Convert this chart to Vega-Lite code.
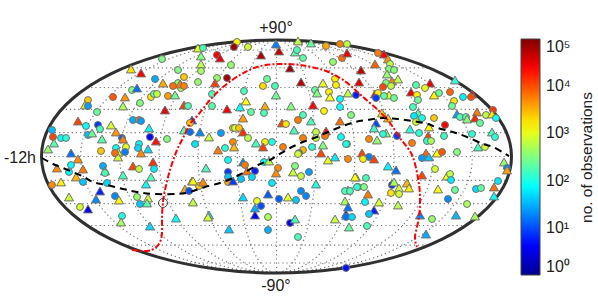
{"$schema":"https://vega.github.io/schema/vega-lite/v6.json","width":598,"height":298,"padding":0,"autosize":"none","background":"white","config":{"view":{"stroke":null},"font":"Liberation Sans"},
"datasets":{
"outline":[{"i":0,"x":511.5,"y":156.5},{"i":1,"x":503.5,"y":186.7},{"i":2,"x":480,"y":214.75},{"i":3,"x":442.7,"y":238.9},{"i":4,"x":394,"y":257.4},{"i":5,"x":337.3,"y":269},{"i":6,"x":276.5,"y":273},{"i":7,"x":215.7,"y":269},{"i":8,"x":159,"y":257.4},{"i":9,"x":110.3,"y":238.9},{"i":10,"x":73,"y":214.75},{"i":11,"x":49.5,"y":186.7},{"i":12,"x":41.5,"y":156.5},{"i":13,"x":49.5,"y":126.3},{"i":14,"x":73,"y":98.25},{"i":15,"x":110.3,"y":74.1},{"i":16,"x":159,"y":55.6},{"i":17,"x":215.7,"y":44},{"i":18,"x":276.5,"y":40},{"i":19,"x":337.3,"y":44},{"i":20,"x":394,"y":55.6},{"i":21,"x":442.7,"y":74.1},{"i":22,"x":480,"y":98.25},{"i":23,"x":503.5,"y":126.3}],
"parallels":[{"g":"0","x":41.5,"y":156.5},{"g":"0","x":511.5,"y":156.5},{"g":"a","x":46.5,"y":132.7},{"g":"a","x":506.5,"y":132.7},{"g":"b","x":46.5,"y":180.3},{"g":"b","x":506.5,"y":180.3},{"g":"c","x":61.5,"y":109.4},{"g":"c","x":491.5,"y":109.4},{"g":"d","x":61.5,"y":203.6},{"g":"d","x":491.5,"y":203.6},{"g":"e","x":87,"y":87.5},{"g":"e","x":466,"y":87.5},{"g":"f","x":87,"y":225.5},{"g":"f","x":466,"y":225.5},{"g":"h","x":124,"y":67.8},{"g":"h","x":429,"y":67.8},{"g":"i","x":124,"y":245.2},{"g":"i","x":429,"y":245.2},{"g":"j","x":181.5,"y":50},{"g":"j","x":371.5,"y":50},{"g":"k","x":181.5,"y":263},{"g":"k","x":371.5,"y":263}],
"meridians":[{"g":"C","x":276.5,"y":40},{"g":"C","x":276.5,"y":273},
{"g":"L1","x":276.5,"y":40},{"g":"L1","x":267,"y":43.5},{"g":"L1","x":259.4,"y":51.65},{"g":"L1","x":253,"y":63.3},{"g":"L1","x":245.2,"y":86.6},{"g":"L1","x":239.1,"y":121.55},{"g":"L1","x":237.3,"y":156.5},{"g":"L1","x":239.1,"y":191.45},{"g":"L1","x":245.2,"y":226.4},{"g":"L1","x":253,"y":249.7},{"g":"L1","x":259.4,"y":261.35},{"g":"L1","x":267,"y":269.5},{"g":"L1","x":276.5,"y":273},
{"g":"R1","x":276.5,"y":40},{"g":"R1","x":286,"y":43.5},{"g":"R1","x":293.6,"y":51.65},{"g":"R1","x":300,"y":63.3},{"g":"R1","x":307.8,"y":86.6},{"g":"R1","x":313.9,"y":121.55},{"g":"R1","x":315.7,"y":156.5},{"g":"R1","x":313.9,"y":191.45},{"g":"R1","x":307.8,"y":226.4},{"g":"R1","x":300,"y":249.7},{"g":"R1","x":293.6,"y":261.35},{"g":"R1","x":286,"y":269.5},{"g":"R1","x":276.5,"y":273},
{"g":"L2","x":276.5,"y":40},{"g":"L2","x":257.5,"y":43.5},{"g":"L2","x":242.3,"y":51.65},{"g":"L2","x":229.5,"y":63.3},{"g":"L2","x":213.8,"y":86.6},{"g":"L2","x":201.8,"y":121.55},{"g":"L2","x":198.2,"y":156.5},{"g":"L2","x":201.8,"y":191.45},{"g":"L2","x":213.8,"y":226.4},{"g":"L2","x":229.5,"y":249.7},{"g":"L2","x":242.3,"y":261.35},{"g":"L2","x":257.5,"y":269.5},{"g":"L2","x":276.5,"y":273},
{"g":"R2","x":276.5,"y":40},{"g":"R2","x":295.5,"y":43.5},{"g":"R2","x":310.7,"y":51.65},{"g":"R2","x":323.5,"y":63.3},{"g":"R2","x":339.2,"y":86.6},{"g":"R2","x":351.2,"y":121.55},{"g":"R2","x":354.8,"y":156.5},{"g":"R2","x":351.2,"y":191.45},{"g":"R2","x":339.2,"y":226.4},{"g":"R2","x":323.5,"y":249.7},{"g":"R2","x":310.7,"y":261.35},{"g":"R2","x":295.5,"y":269.5},{"g":"R2","x":276.5,"y":273},
{"g":"L3","x":276.5,"y":40},{"g":"L3","x":247.9,"y":43.5},{"g":"L3","x":225.3,"y":51.65},{"g":"L3","x":206,"y":63.3},{"g":"L3","x":182.5,"y":86.6},{"g":"L3","x":164.4,"y":121.55},{"g":"L3","x":159,"y":156.5},{"g":"L3","x":164.4,"y":191.45},{"g":"L3","x":182.5,"y":226.4},{"g":"L3","x":206,"y":249.7},{"g":"L3","x":225.3,"y":261.35},{"g":"L3","x":247.9,"y":269.5},{"g":"L3","x":276.5,"y":273},
{"g":"R3","x":276.5,"y":40},{"g":"R3","x":305.1,"y":43.5},{"g":"R3","x":327.7,"y":51.65},{"g":"R3","x":347,"y":63.3},{"g":"R3","x":370.5,"y":86.6},{"g":"R3","x":388.6,"y":121.55},{"g":"R3","x":394,"y":156.5},{"g":"R3","x":388.6,"y":191.45},{"g":"R3","x":370.5,"y":226.4},{"g":"R3","x":347,"y":249.7},{"g":"R3","x":327.7,"y":261.35},{"g":"R3","x":305.1,"y":269.5},{"g":"R3","x":276.5,"y":273},
{"g":"L4","x":276.5,"y":40},{"g":"L4","x":238.4,"y":43.5},{"g":"L4","x":208.2,"y":51.65},{"g":"L4","x":182.5,"y":63.3},{"g":"L4","x":151.2,"y":86.6},{"g":"L4","x":127,"y":121.55},{"g":"L4","x":119.8,"y":156.5},{"g":"L4","x":127,"y":191.45},{"g":"L4","x":151.2,"y":226.4},{"g":"L4","x":182.5,"y":249.7},{"g":"L4","x":208.2,"y":261.35},{"g":"L4","x":238.4,"y":269.5},{"g":"L4","x":276.5,"y":273},
{"g":"R4","x":276.5,"y":40},{"g":"R4","x":314.6,"y":43.5},{"g":"R4","x":344.8,"y":51.65},{"g":"R4","x":370.5,"y":63.3},{"g":"R4","x":401.8,"y":86.6},{"g":"R4","x":426,"y":121.55},{"g":"R4","x":433.2,"y":156.5},{"g":"R4","x":426,"y":191.45},{"g":"R4","x":401.8,"y":226.4},{"g":"R4","x":370.5,"y":249.7},{"g":"R4","x":344.8,"y":261.35},{"g":"R4","x":314.6,"y":269.5},{"g":"R4","x":276.5,"y":273},
{"g":"L5","x":276.5,"y":40},{"g":"L5","x":228.9,"y":43.5},{"g":"L5","x":191.1,"y":51.65},{"g":"L5","x":159,"y":63.3},{"g":"L5","x":119.8,"y":86.6},{"g":"L5","x":89.7,"y":121.55},{"g":"L5","x":80.7,"y":156.5},{"g":"L5","x":89.7,"y":191.45},{"g":"L5","x":119.8,"y":226.4},{"g":"L5","x":159,"y":249.7},{"g":"L5","x":191.1,"y":261.35},{"g":"L5","x":228.9,"y":269.5},{"g":"L5","x":276.5,"y":273},
{"g":"R5","x":276.5,"y":40},{"g":"R5","x":324.1,"y":43.5},{"g":"R5","x":361.9,"y":51.65},{"g":"R5","x":394,"y":63.3},{"g":"R5","x":433.2,"y":86.6},{"g":"R5","x":463.3,"y":121.55},{"g":"R5","x":472.3,"y":156.5},{"g":"R5","x":463.3,"y":191.45},{"g":"R5","x":433.2,"y":226.4},{"g":"R5","x":394,"y":249.7},{"g":"R5","x":361.9,"y":261.35},{"g":"R5","x":324.1,"y":269.5},{"g":"R5","x":276.5,"y":273}],
"ecliptic":[{"x":42,"y":158},{"x":53,"y":164},{"x":63,"y":168},{"x":82,"y":176},{"x":93,"y":182},{"x":107,"y":185},{"x":123,"y":189},{"x":137,"y":192},{"x":153,"y":194},{"x":177,"y":194},{"x":190,"y":192},{"x":205,"y":187},{"x":220,"y":183},{"x":233,"y":178},{"x":245,"y":172},{"x":258,"y":165},{"x":270,"y":160},{"x":278,"y":155},{"x":290,"y":148},{"x":303,"y":142},{"x":317,"y":137},{"x":328,"y":132},{"x":343,"y":126},{"x":355,"y":122},{"x":367,"y":120},{"x":383,"y":118},{"x":398,"y":119},{"x":413,"y":121},{"x":428,"y":124},{"x":438,"y":128},{"x":453,"y":132},{"x":467,"y":137},{"x":483,"y":144},{"x":493,"y":147},{"x":504,"y":153},{"x":509,"y":156}],
"galactic":[{"i":0,"x":132,"y":250},{"i":1,"x":147,"y":251},{"i":2,"x":155,"y":248},{"i":3,"x":160,"y":242},{"i":4,"x":162,"y":233},{"i":5,"x":162,"y":217},{"i":6,"x":163,"y":202},{"i":7,"x":165,"y":190},{"i":8,"x":170,"y":170},{"i":9,"x":177,"y":150},{"i":10,"x":183,"y":138},{"i":11,"x":190,"y":124},{"i":12,"x":198,"y":115},{"i":13,"x":210,"y":100},{"i":14,"x":223,"y":87},{"i":15,"x":240,"y":75},{"i":16,"x":257,"y":67},{"i":17,"x":277,"y":64},{"i":18,"x":300,"y":65},{"i":19,"x":323,"y":70},{"i":20,"x":340,"y":78},{"i":21,"x":352,"y":87},{"i":22,"x":363,"y":97},{"i":23,"x":378,"y":110},{"i":24,"x":390,"y":123},{"i":25,"x":400,"y":138},{"i":26,"x":412,"y":155},{"i":27,"x":418,"y":178},{"i":28,"x":420,"y":197},{"i":29,"x":419,"y":217},{"i":30,"x":415,"y":237},{"i":31,"x":417,"y":247}],
"centre":[{"x":163,"y":203}],
"labels":[{"x":276,"y":28,"t":"+90°"},{"x":276,"y":286,"t":"-90°"},{"x":20,"y":158,"t":"-12h"}],
"cbtitle":[{"x":587,"y":157.5,"t":"no. of observations"}],
"sources":[
{"x":162,"y":59,"k":"c","n":320},{"x":131,"y":69,"k":"t","n":1800},{"x":141,"y":73,"k":"t","n":25000},{"x":178,"y":70,"k":"c","n":320},{"x":155,"y":79,"k":"c","n":30},{"x":184,"y":77,"k":"c","n":2500},{"x":163,"y":83,"k":"t","n":3500},{"x":178,"y":83,"k":"c","n":320},{"x":181,"y":88,"k":"c","n":630},{"x":180,"y":84,"k":"t","n":5600},{"x":173,"y":86,"k":"c","n":7000},{"x":184,"y":86,"k":"c","n":5600},{"x":132,"y":90,"k":"c","n":320},{"x":137,"y":88,"k":"t","n":15},{"x":113,"y":97,"k":"c","n":9000},{"x":125,"y":97,"k":"t","n":4500},{"x":88,"y":100,"k":"c","n":2500},{"x":85,"y":105,"k":"t","n":1800},{"x":88,"y":106,"k":"c","n":25},{"x":123,"y":106,"k":"t","n":500},{"x":140,"y":103,"k":"c","n":320},{"x":151,"y":97,"k":"c","n":1800},{"x":154,"y":94,"k":"c","n":250},{"x":157,"y":94,"k":"c","n":630},{"x":168,"y":96,"k":"c","n":4000},{"x":175,"y":95,"k":"t","n":250},{"x":184,"y":105,"k":"t","n":12000},{"x":188,"y":106,"k":"c","n":170},{"x":165,"y":110,"k":"t","n":30000},{"x":97,"y":112,"k":"c","n":250},{"x":78,"y":121,"k":"t","n":11000},{"x":86,"y":126,"k":"c","n":80},{"x":98,"y":125,"k":"c","n":8},{"x":100,"y":129,"k":"c","n":170},{"x":111,"y":125,"k":"t","n":800},{"x":133,"y":120,"k":"c","n":30},{"x":139,"y":120,"k":"c","n":5600},{"x":141,"y":121,"k":"c","n":25},{"x":149,"y":128,"k":"t","n":70},{"x":52,"y":130,"k":"c","n":35},{"x":53,"y":137,"k":"c","n":11000},{"x":61,"y":138,"k":"c","n":80},{"x":66,"y":138,"k":"c","n":120},{"x":54,"y":143,"k":"t","n":200},{"x":88,"y":135,"k":"c","n":40},{"x":92,"y":133,"k":"t","n":250},{"x":102,"y":139,"k":"t","n":200},{"x":116,"y":132,"k":"t","n":4500},{"x":122,"y":138,"k":"c","n":12},{"x":123,"y":139,"k":"t","n":5600},{"x":150,"y":137,"k":"c","n":4},{"x":156,"y":141,"k":"t","n":20000},{"x":167,"y":139,"k":"c","n":320},{"x":184,"y":130,"k":"t","n":200},{"x":190,"y":132,"k":"c","n":15},{"x":192,"y":120,"k":"t","n":8},{"x":190,"y":123,"k":"c","n":2500},{"x":200,"y":132,"k":"t","n":20},{"x":195,"y":144,"k":"c","n":60},{"x":139,"y":144,"k":"c","n":70},
{"x":198,"y":48,"k":"t","n":1000},{"x":203,"y":48,"k":"c","n":170},{"x":237,"y":42,"k":"c","n":1500},{"x":234,"y":47,"k":"c","n":70000},{"x":248,"y":47,"k":"c","n":800},{"x":276,"y":44,"k":"t","n":18},{"x":298,"y":41,"k":"t","n":600},{"x":311,"y":43,"k":"t","n":220},{"x":326,"y":46,"k":"c","n":3500},{"x":340,"y":44,"k":"c","n":5600},{"x":347,"y":44,"k":"c","n":630},{"x":279,"y":51,"k":"t","n":45000},{"x":295,"y":52,"k":"t","n":220},{"x":297,"y":50,"k":"c","n":170},{"x":201,"y":56,"k":"t","n":320},{"x":217,"y":55,"k":"c","n":25000},{"x":220,"y":58,"k":"t","n":30000},{"x":261,"y":55,"k":"t","n":60000},{"x":303,"y":58,"k":"c","n":220},{"x":342,"y":58,"k":"c","n":7000},{"x":347,"y":53,"k":"t","n":28000},{"x":201,"y":64,"k":"t","n":630},{"x":231,"y":65,"k":"c","n":400},{"x":333,"y":62,"k":"c","n":400},{"x":290,"y":68,"k":"t","n":70000},{"x":201,"y":71,"k":"c","n":500},{"x":217,"y":78,"k":"c","n":400},{"x":227,"y":78,"k":"c","n":70000},{"x":198,"y":82,"k":"c","n":400},{"x":215,"y":83,"k":"t","n":12000},{"x":267,"y":79,"k":"c","n":250},{"x":263,"y":86,"k":"c","n":2000},{"x":275,"y":86,"k":"c","n":170},{"x":301,"y":82,"k":"t","n":50000},{"x":335,"y":79,"k":"c","n":1600},{"x":323,"y":83,"k":"t","n":1000},{"x":336,"y":85,"k":"c","n":1600},{"x":359,"y":82,"k":"t","n":30000},{"x":212,"y":94,"k":"c","n":170},{"x":244,"y":91,"k":"c","n":170},{"x":315,"y":90,"k":"c","n":220},{"x":317,"y":93,"k":"t","n":320},{"x":329,"y":92,"k":"c","n":1600},{"x":330,"y":97,"k":"t","n":1260},{"x":348,"y":93,"k":"t","n":630},{"x":356,"y":95,"k":"c","n":6},{"x":276,"y":95,"k":"t","n":250},{"x":246,"y":101,"k":"t","n":1260},{"x":340,"y":99,"k":"c","n":80},{"x":212,"y":106,"k":"c","n":200},{"x":227,"y":109,"k":"t","n":25000},{"x":240,"y":107,"k":"t","n":80},{"x":265,"y":106,"k":"t","n":3500},{"x":291,"y":106,"k":"t","n":320},{"x":313,"y":105,"k":"t","n":25000},{"x":324,"y":111,"k":"c","n":1600},{"x":340,"y":107,"k":"c","n":80},{"x":251,"y":112,"k":"c","n":220},{"x":264,"y":113,"k":"c","n":170},{"x":303,"y":115,"k":"c","n":170},{"x":351,"y":115,"k":"c","n":320},{"x":243,"y":118,"k":"t","n":4000},{"x":282,"y":123,"k":"t","n":11000},{"x":286,"y":124,"k":"c","n":1800},{"x":298,"y":120,"k":"c","n":6000},{"x":311,"y":121,"k":"t","n":170},{"x":340,"y":121,"k":"t","n":7000},{"x":209,"y":137,"k":"t","n":700},{"x":221,"y":133,"k":"c","n":25},{"x":233,"y":128,"k":"c","n":2500},{"x":235,"y":128,"k":"c","n":800},{"x":239,"y":128,"k":"c","n":2500},{"x":243,"y":132,"k":"t","n":14000},{"x":248,"y":138,"k":"c","n":630},{"x":294,"y":130,"k":"t","n":170},{"x":303,"y":138,"k":"c","n":6000},{"x":316,"y":132,"k":"c","n":630},{"x":316,"y":138,"k":"c","n":630},{"x":326,"y":131,"k":"t","n":20000},{"x":325,"y":136,"k":"c","n":6000},{"x":341,"y":137,"k":"c","n":80},{"x":233,"y":142,"k":"c","n":5000},{"x":256,"y":143,"k":"t","n":150},{"x":265,"y":142,"k":"c","n":1600},{"x":272,"y":142,"k":"c","n":100},{"x":347,"y":144,"k":"c","n":170},{"x":323,"y":145,"k":"t","n":320},
{"x":378,"y":53,"k":"c","n":6000},{"x":384,"y":54,"k":"t","n":25000},{"x":388,"y":59,"k":"t","n":4500},{"x":390,"y":64,"k":"c","n":630},{"x":375,"y":64,"k":"t","n":8000},{"x":389,"y":69,"k":"c","n":320},{"x":394,"y":70,"k":"c","n":320},{"x":387,"y":74,"k":"t","n":400},{"x":361,"y":70,"k":"t","n":50000},{"x":392,"y":81,"k":"t","n":5600},{"x":398,"y":79,"k":"t","n":630},{"x":386,"y":83,"k":"c","n":320},{"x":383,"y":87,"k":"c","n":11000},{"x":391,"y":86,"k":"c","n":630},{"x":455,"y":80,"k":"t","n":120},{"x":416,"y":85,"k":"c","n":200},{"x":430,"y":83,"k":"t","n":30000},{"x":425,"y":88,"k":"c","n":1000},{"x":411,"y":92,"k":"t","n":28000},{"x":434,"y":95,"k":"t","n":1500},{"x":439,"y":93,"k":"c","n":250},{"x":450,"y":92,"k":"c","n":8000},{"x":463,"y":97,"k":"c","n":70},{"x":472,"y":94,"k":"t","n":25000},{"x":471,"y":97,"k":"c","n":10000},{"x":375,"y":94,"k":"t","n":25000},{"x":378,"y":93,"k":"c","n":1600},{"x":376,"y":98,"k":"c","n":8},{"x":389,"y":95,"k":"t","n":1000},{"x":384,"y":96,"k":"c","n":220},{"x":394,"y":98,"k":"c","n":250},{"x":417,"y":95,"k":"c","n":1500},{"x":418,"y":100,"k":"c","n":250},{"x":454,"y":101,"k":"c","n":1700},{"x":452,"y":106,"k":"c","n":250},{"x":413,"y":107,"k":"c","n":170},{"x":418,"y":113,"k":"t","n":170},{"x":414,"y":116,"k":"c","n":60},{"x":422,"y":118,"k":"c","n":100},{"x":477,"y":112,"k":"t","n":6000},{"x":493,"y":110,"k":"c","n":13000},{"x":486,"y":115,"k":"c","n":630},{"x":492,"y":114,"k":"t","n":1800},{"x":496,"y":118,"k":"c","n":80},{"x":457,"y":114,"k":"t","n":25},{"x":460,"y":117,"k":"c","n":170},{"x":466,"y":117,"k":"c","n":220},{"x":467,"y":119,"k":"t","n":350},{"x":475,"y":118,"k":"t","n":16000},{"x":480,"y":123,"k":"c","n":220},{"x":434,"y":118,"k":"c","n":2500},{"x":416,"y":122,"k":"c","n":800},{"x":445,"y":125,"k":"c","n":25000},{"x":382,"y":113,"k":"t","n":1800},{"x":388,"y":118,"k":"t","n":2500},{"x":376,"y":123,"k":"t","n":10},{"x":374,"y":128,"k":"t","n":150},{"x":386,"y":133,"k":"t","n":320},{"x":383,"y":134,"k":"c","n":120},{"x":397,"y":136,"k":"c","n":8},{"x":410,"y":129,"k":"t","n":110},{"x":429,"y":127,"k":"t","n":1500},{"x":419,"y":133,"k":"c","n":120},{"x":444,"y":136,"k":"c","n":150},{"x":472,"y":134,"k":"c","n":120},{"x":492,"y":132,"k":"t","n":170},{"x":495,"y":137,"k":"c","n":120},{"x":369,"y":139,"k":"c","n":5000},{"x":377,"y":140,"k":"t","n":400},{"x":428,"y":136,"k":"t","n":12000},{"x":427,"y":141,"k":"c","n":120},{"x":431,"y":141,"k":"c","n":500},{"x":412,"y":143,"k":"c","n":6000},
{"x":48,"y":149,"k":"t","n":400},{"x":71,"y":153,"k":"t","n":15},{"x":78,"y":159,"k":"t","n":5000},{"x":71,"y":165,"k":"c","n":80},{"x":57,"y":168,"k":"t","n":5000},{"x":83,"y":169,"k":"t","n":6000},{"x":69,"y":172,"k":"c","n":70},{"x":76,"y":177,"k":"t","n":3000},{"x":83,"y":182,"k":"c","n":40},{"x":61,"y":182,"k":"t","n":1600},{"x":52,"y":185,"k":"c","n":5000},{"x":101,"y":151,"k":"c","n":2500},{"x":103,"y":166,"k":"c","n":30},{"x":105,"y":171,"k":"t","n":60},{"x":105,"y":173,"k":"c","n":170},{"x":123,"y":175,"k":"t","n":170},{"x":133,"y":166,"k":"t","n":11000},{"x":139,"y":169,"k":"c","n":630},{"x":153,"y":162,"k":"t","n":14000},{"x":154,"y":169,"k":"c","n":60},{"x":151,"y":177,"k":"t","n":170},{"x":146,"y":184,"k":"t","n":80},{"x":116,"y":148,"k":"c","n":90},{"x":126,"y":147,"k":"c","n":1000},{"x":118,"y":152,"k":"t","n":800},{"x":118,"y":157,"k":"t","n":800},{"x":115,"y":153,"k":"c","n":7000},{"x":125,"y":152,"k":"c","n":18},{"x":138,"y":148,"k":"c","n":50},{"x":141,"y":153,"k":"t","n":5000},{"x":148,"y":149,"k":"t","n":50},{"x":100,"y":191,"k":"t","n":6},{"x":107,"y":183,"k":"c","n":50},{"x":115,"y":196,"k":"c","n":20},{"x":96,"y":199,"k":"t","n":20},{"x":119,"y":200,"k":"t","n":1500},{"x":69,"y":197,"k":"t","n":700},{"x":80,"y":207,"k":"c","n":800},{"x":88,"y":209,"k":"t","n":4},{"x":137,"y":197,"k":"c","n":400},{"x":148,"y":198,"k":"t","n":800},{"x":140,"y":204,"k":"c","n":40},{"x":147,"y":203,"k":"t","n":200},{"x":122,"y":216,"k":"c","n":100},{"x":121,"y":222,"k":"t","n":500},{"x":150,"y":226,"k":"t","n":50},{"x":176,"y":218,"k":"t","n":80},{"x":185,"y":189,"k":"t","n":3500},{"x":192,"y":181,"k":"t","n":1500},{"x":189,"y":191,"k":"c","n":10},{"x":199,"y":186,"k":"c","n":2500},{"x":193,"y":202,"k":"t","n":600},
{"x":225,"y":148,"k":"c","n":120},{"x":218,"y":150,"k":"t","n":6000},{"x":234,"y":147,"k":"t","n":3000},{"x":263,"y":147,"k":"t","n":12000},{"x":283,"y":147,"k":"c","n":6000},{"x":303,"y":150,"k":"c","n":3000},{"x":299,"y":153,"k":"c","n":20},{"x":298,"y":154,"k":"c","n":800},{"x":312,"y":147,"k":"c","n":120},{"x":346,"y":144,"k":"c","n":100},{"x":321,"y":153,"k":"t","n":11000},{"x":335,"y":157,"k":"t","n":60},{"x":328,"y":160,"k":"t","n":1000},{"x":348,"y":159,"k":"c","n":5000},{"x":228,"y":160,"k":"c","n":80},{"x":206,"y":168,"k":"t","n":170},{"x":243,"y":162,"k":"t","n":20},{"x":245,"y":165,"k":"c","n":6000},{"x":247,"y":171,"k":"t","n":7000},{"x":255,"y":171,"k":"c","n":6},{"x":264,"y":162,"k":"c","n":70},{"x":269,"y":161,"k":"t","n":600},{"x":278,"y":168,"k":"c","n":5000},{"x":276,"y":173,"k":"t","n":5000},{"x":295,"y":166,"k":"c","n":320},{"x":293,"y":172,"k":"t","n":700},{"x":301,"y":176,"k":"c","n":630},{"x":309,"y":172,"k":"c","n":25},{"x":228,"y":172,"k":"c","n":8},{"x":228,"y":177,"k":"c","n":40},{"x":228,"y":182,"k":"c","n":3500},{"x":233,"y":181,"k":"t","n":8},{"x":241,"y":179,"k":"c","n":40},{"x":252,"y":177,"k":"c","n":50},{"x":193,"y":181,"k":"t","n":1500},{"x":203,"y":182,"k":"t","n":5000},{"x":272,"y":183,"k":"c","n":60},{"x":316,"y":184,"k":"t","n":100},{"x":356,"y":177,"k":"t","n":1000},{"x":358,"y":187,"k":"c","n":120},{"x":348,"y":190,"k":"t","n":200},{"x":345,"y":191,"k":"c","n":170},{"x":268,"y":194,"k":"t","n":12},{"x":243,"y":197,"k":"t","n":50},{"x":279,"y":199,"k":"c","n":12},{"x":288,"y":197,"k":"t","n":1000},{"x":301,"y":191,"k":"c","n":20},{"x":306,"y":196,"k":"c","n":20},{"x":296,"y":200,"k":"c","n":40},{"x":257,"y":201,"k":"c","n":1000},{"x":261,"y":206,"k":"c","n":10},{"x":255,"y":208,"k":"t","n":30},{"x":255,"y":215,"k":"t","n":4},{"x":268,"y":217,"k":"c","n":500},{"x":345,"y":201,"k":"t","n":500},{"x":348,"y":207,"k":"t","n":15},{"x":346,"y":214,"k":"t","n":8},{"x":346,"y":217,"k":"c","n":15},{"x":352,"y":217,"k":"c","n":50},{"x":335,"y":219,"k":"t","n":700},{"x":349,"y":227,"k":"t","n":220},{"x":209,"y":215,"k":"t","n":50},{"x":208,"y":217,"k":"t","n":800},{"x":290,"y":223,"k":"c","n":4},{"x":295,"y":219,"k":"t","n":170},{"x":229,"y":229,"k":"t","n":40},{"x":268,"y":230,"k":"c","n":30},{"x":298,"y":237,"k":"c","n":170},{"x":346,"y":268,"k":"c","n":5},
{"x":362,"y":153,"k":"t","n":11000},{"x":369,"y":157,"k":"c","n":18},{"x":363,"y":159,"k":"c","n":1500},{"x":374,"y":159,"k":"t","n":12000},{"x":388,"y":166,"k":"t","n":70},{"x":396,"y":170,"k":"t","n":15},{"x":355,"y":177,"k":"t","n":1260},{"x":366,"y":178,"k":"c","n":170},{"x":357,"y":187,"k":"c","n":120},{"x":364,"y":187,"k":"c","n":320},{"x":368,"y":194,"k":"t","n":6000},{"x":350,"y":191,"k":"c","n":170},{"x":392,"y":185,"k":"c","n":6},{"x":394,"y":182,"k":"t","n":500},{"x":399,"y":188,"k":"t","n":800},{"x":407,"y":183,"k":"t","n":3000},{"x":409,"y":188,"k":"t","n":1600},{"x":391,"y":193,"k":"c","n":1800},{"x":399,"y":194,"k":"c","n":800},{"x":365,"y":202,"k":"c","n":70},{"x":379,"y":202,"k":"t","n":800},{"x":398,"y":205,"k":"t","n":600},{"x":374,"y":210,"k":"t","n":6},{"x":369,"y":214,"k":"c","n":40},{"x":367,"y":226,"k":"c","n":170},{"x":426,"y":153,"k":"t","n":8000},{"x":437,"y":153,"k":"t","n":1260},{"x":442,"y":152,"k":"c","n":9000},{"x":422,"y":158,"k":"c","n":25},{"x":429,"y":157,"k":"t","n":40},{"x":457,"y":152,"k":"c","n":320},{"x":435,"y":169,"k":"c","n":800},{"x":422,"y":175,"k":"t","n":11000},{"x":447,"y":176,"k":"t","n":1260},{"x":450,"y":174,"k":"c","n":630},{"x":451,"y":180,"k":"c","n":60},{"x":438,"y":189,"k":"t","n":1260},{"x":455,"y":190,"k":"c","n":250},{"x":448,"y":199,"k":"c","n":20},{"x":467,"y":204,"k":"c","n":500},{"x":494,"y":187,"k":"t","n":7000},{"x":498,"y":181,"k":"c","n":60},{"x":476,"y":189,"k":"c","n":50},{"x":481,"y":188,"k":"c","n":220},{"x":494,"y":196,"k":"t","n":80},{"x":504,"y":162,"k":"t","n":400},{"x":507,"y":168,"k":"c","n":20},{"x":507,"y":170,"k":"t","n":4000},{"x":478,"y":147,"k":"t","n":150},{"x":485,"y":147,"k":"c","n":800},{"x":420,"y":215,"k":"t","n":20},{"x":432,"y":219,"k":"c","n":400},{"x":456,"y":215,"k":"t","n":35},{"x":475,"y":216,"k":"t","n":500},{"x":426,"y":234,"k":"t","n":30}
]},
"encoding":{"x":{"field":"x","type":"quantitative","scale":{"domain":[0,598]},"axis":null},"y":{"field":"y","type":"quantitative","scale":{"domain":[298,0]},"axis":null}},
"layer":[
{"data":{"name":"parallels"},"mark":{"type":"line","color":"#777","strokeWidth":1.2,"strokeDash":[1.2,3]},"encoding":{"detail":{"field":"g"}}},
{"data":{"name":"meridians"},"mark":{"type":"line","color":"#777","strokeWidth":1.2,"strokeDash":[1.2,3],"interpolate":"cardinal"},"encoding":{"detail":{"field":"g"},"order":{"field":"y"}}},
{"data":{"name":"outline"},"mark":{"type":"line","color":"#303030","strokeWidth":3,"interpolate":"cardinal-closed"},"encoding":{"order":{"field":"i"}}},
{"data":{"name":"sources"},"mark":{"type":"point","filled":true,"opacity":1,"stroke":"#707070","strokeWidth":1},"encoding":{"shape":{"field":"k","type":"nominal","scale":{"domain":["c","t"],"range":["circle","triangle-up"]},"legend":null},"size":{"field":"k","type":"nominal","scale":{"domain":["c","t"],"range":[48,82]},"legend":null},"fill":{"field":"n","type":"quantitative","scale":{"type":"log","domain":[1,100000],"range":["#00008f","#0000ff","#0080ff","#00ffff","#80ff80","#ffff00","#ff8000","#ff0000","#800000"],"interpolate":"rgb"},"legend":{"orient":"none","legendX":521,"legendY":39,"title":null,"direction":"vertical","gradientLength":236,"gradientThickness":19,"gradientStrokeColor":"#444","gradientStrokeWidth":1,"values":[1,10,100,1000,10000,100000],"labelFontSize":16,"labelColor":"#222","labelFont":"Liberation Sans","labelOffset":6,"labelBaseline":"middle","labelOverlap":false,"labelExpr":"{'1':'10⁰','10':'10¹','100':'10²','1000':'10³','10000':'10⁴','100000':'10⁵'}[datum.value]"}}}},
{"data":{"name":"ecliptic"},"mark":{"type":"line","color":"black","strokeWidth":2,"strokeDash":[7,5],"interpolate":"cardinal"}},
{"data":{"name":"galactic"},"mark":{"type":"line","color":"#f00","strokeWidth":2,"strokeDash":[6,2,2,2],"interpolate":"cardinal"},"encoding":{"order":{"field":"i"}}},
{"data":{"name":"centre"},"mark":{"type":"point","shape":"circle","filled":false,"stroke":"#333","strokeWidth":0.9,"size":80,"opacity":1}},
{"data":{"name":"labels"},"mark":{"type":"text","font":"Liberation Sans","fontSize":16,"color":"#222","align":"center","baseline":"middle"},"encoding":{"text":{"field":"t"}}},
{"data":{"name":"cbtitle"},"mark":{"type":"text","font":"Liberation Sans","fontSize":15.5,"color":"#222","align":"center","baseline":"middle","angle":270},"encoding":{"text":{"field":"t"}}}
]}
